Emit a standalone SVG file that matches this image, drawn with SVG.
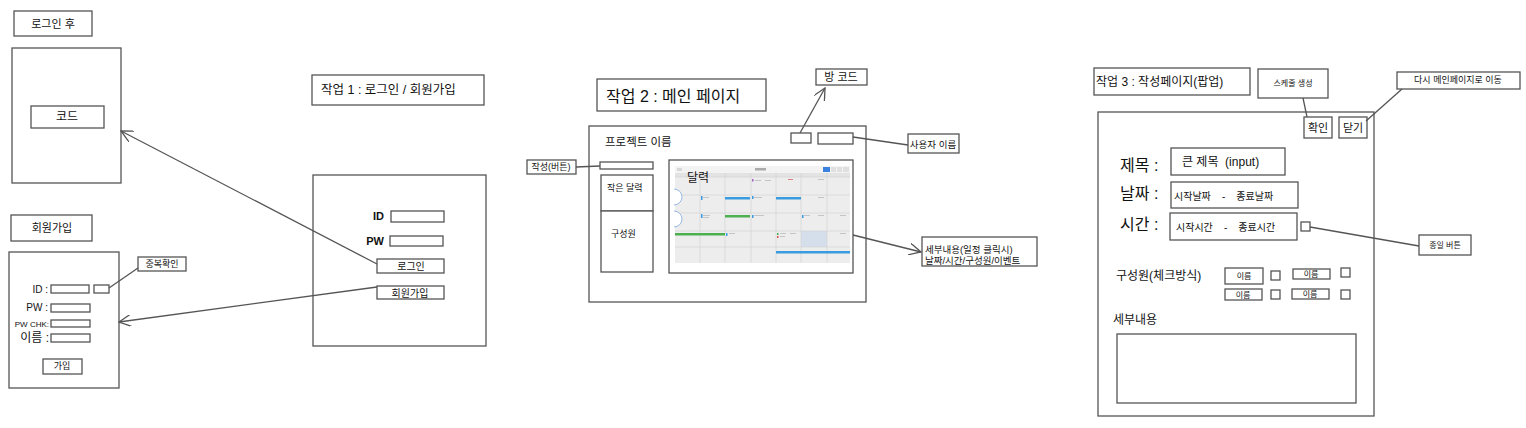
<svg xmlns="http://www.w3.org/2000/svg" width="1526" height="428" viewBox="0 0 1526 428">
<defs>
<style>
.b{fill:#fff;stroke:#555;stroke-width:1.3}
.ln{fill:none;stroke:#555;stroke-width:1.3}
text{font-family:"Liberation Sans","Noto Sans CJK KR",sans-serif;fill:#111;white-space:pre}
.m{text-anchor:middle;dominant-baseline:central}
.s{dominant-baseline:central}
.e{text-anchor:end;dominant-baseline:central}
.gl{stroke:#d2d2d2;stroke-width:0.6}
</style>
<marker id="ah" viewBox="0 0 13 12" refX="12" refY="6" markerWidth="13" markerHeight="12" markerUnits="userSpaceOnUse" orient="auto">
<path d="M0,0 L12,6 L0,12" fill="none" stroke="#555" stroke-width="1.3"/>
</marker>
</defs>
<rect x="0" y="0" width="1526" height="428" fill="#fff"/>

<!-- Left column -->
<g id="after-login-label"><rect class="b" x="14" y="11" width="78" height="25"/><text class="m" x="53" y="24" font-size="11">로그인 후</text></g>
<g id="after-login-page"><rect class="b" x="12" y="48" width="109" height="135"/></g>
<g id="code-box"><rect class="b" x="31" y="106" width="73" height="22"/><text class="m" x="67" y="117" font-size="12">코드</text></g>

<g id="signup-label"><rect class="b" x="11" y="215" width="81" height="26"/><text class="m" x="52" y="228" font-size="11">회원가입</text></g>
<g id="signup-page">
<rect class="b" x="9" y="252" width="110" height="136"/>
<text class="e" x="48" y="289" font-size="10">ID :</text>
<rect class="b" x="51" y="285" width="38" height="8"/>
<rect class="b" x="94" y="285" width="15" height="8"/>
<text class="e" x="48" y="307" font-size="10">PW :</text>
<rect class="b" x="51" y="304" width="39" height="8"/>
<text class="e" x="49" y="324" font-size="8">PW CHK:</text>
<rect class="b" x="51" y="320" width="39" height="7"/>
<text class="e" x="49" y="338" font-size="12">이름 :</text>
<rect class="b" x="51" y="334" width="39" height="8"/>
<rect class="b" x="43" y="359" width="39" height="15"/>
<text class="m" x="62" y="366" font-size="9">가입</text>
</g>
<g id="dup-check"><rect class="b" x="138" y="257" width="48" height="14"/><text class="m" x="162" y="264" font-size="9">중복확인</text></g>

<!-- Task 1 -->
<g id="task1-title"><rect class="b" x="312" y="75" width="172" height="30"/><text class="s" x="321" y="90" font-size="12.5">작업 1 : 로그인 / 회원가입</text></g>
<g id="login-page">
<rect class="b" x="313" y="175" width="173" height="171"/>
<text class="e" x="384" y="216" font-size="11" font-weight="bold">ID</text>
<rect class="b" x="391" y="211" width="53" height="11"/>
<text class="e" x="384" y="241" font-size="11" font-weight="bold">PW</text>
<rect class="b" x="390" y="236" width="53" height="10"/>
</g>
<g id="login-btn"><rect class="b" x="377" y="259" width="67" height="14"/><text class="m" x="411" y="266" font-size="10">로그인</text></g>
<g id="signup-btn"><rect class="b" x="377" y="286" width="67" height="13"/><text class="m" x="410" y="293" font-size="10">회원가입</text></g>

<!-- Task 2 -->
<g id="task2-title"><rect class="b" x="597" y="79" width="169" height="32"/><text class="s" x="606" y="96" font-size="16">작업 2 : 메인 페이지</text></g>
<g id="room-code"><rect class="b" x="816" y="69" width="51" height="16"/><text class="m" x="841" y="77" font-size="11">방 코드</text></g>
<g id="main-page">
<rect class="b" x="589" y="126" width="277" height="176"/>
<text class="s" x="605" y="142" font-size="11.5">프로젝트 이름</text>
<rect class="b" x="791" y="133" width="20" height="10"/>
<rect class="b" x="818" y="133" width="35" height="11"/>
<rect class="b" x="600" y="162" width="53" height="7"/>
<rect class="b" x="601" y="175" width="52" height="36"/>
<text class="s" x="607" y="188" font-size="9">작은 달력</text>
<rect class="b" x="601" y="211" width="52" height="61"/>
<text class="s" x="611" y="234" font-size="9">구성원</text>
</g>
<g id="calendar">
<rect class="b" x="669" y="160" width="184" height="113"/>
<rect x="675" y="166" width="175" height="97" fill="#ededed"/>
<rect x="675" y="166" width="175" height="7" fill="#f3f3f3"/>
<rect x="677" y="168" width="5" height="3" fill="#d8d8d8"/>
<rect x="755" y="168" width="11" height="2.5" fill="#aaa"/>
<rect x="823" y="167" width="7" height="5" fill="#3b82e0"/>
<rect x="831" y="167" width="5" height="5" fill="#e0e0e0"/>
<rect x="837" y="167" width="5" height="5" fill="#e0e0e0"/>
<rect x="843" y="167" width="6" height="5" fill="#e0e0e0"/>
<rect x="675" y="173" width="175" height="4" fill="#e3e3e3"/>
<rect x="801" y="231" width="26" height="16" fill="#d5dfeb"/>
<g class="gl">
<line x1="700" y1="173" x2="700" y2="263"/><line x1="725" y1="173" x2="725" y2="263"/>
<line x1="751" y1="173" x2="751" y2="263"/><line x1="776" y1="173" x2="776" y2="263"/>
<line x1="801" y1="173" x2="801" y2="263"/><line x1="827" y1="173" x2="827" y2="263"/>
<line x1="675" y1="177" x2="850" y2="177"/><line x1="675" y1="195" x2="850" y2="195"/>
<line x1="675" y1="213" x2="850" y2="213"/><line x1="675" y1="231" x2="850" y2="231"/>
<line x1="675" y1="247" x2="850" y2="247"/>
</g>
<rect x="725" y="197" width="25" height="2.5" fill="#3b9be0"/>
<rect x="776" y="197" width="25" height="2.5" fill="#3b9be0"/>
<rect x="701" y="196" width="1.5" height="4" fill="#3b9be0"/>
<rect x="752" y="196" width="1.5" height="3" fill="#3b9be0"/>
<rect x="725" y="215" width="25" height="2.5" fill="#4caf50"/>
<rect x="701" y="214" width="1.5" height="4" fill="#3b9be0"/>
<rect x="752" y="215" width="1.5" height="3" fill="#3b9be0"/>
<rect x="802" y="215" width="1.5" height="3" fill="#3b9be0"/>
<rect x="675" y="233" width="50" height="2.5" fill="#4caf50"/>
<rect x="726" y="233" width="1.5" height="3" fill="#3b9be0"/>
<rect x="777" y="233" width="1.5" height="2" fill="#4caf50"/>
<rect x="777" y="236" width="1.5" height="2" fill="#e05050"/>
<rect x="752" y="179" width="1.5" height="2.5" fill="#a060c0"/>
<rect x="776" y="251" width="74" height="2.5" fill="#3b9be0"/>
<g fill="#c4c4c4">
<rect x="703" y="197" width="6" height="1"/><rect x="754" y="197" width="8" height="1"/>
<rect x="703" y="215" width="7" height="1"/><rect x="703" y="217" width="6" height="1"/>
<rect x="754" y="215" width="10" height="1"/><rect x="804" y="215" width="6" height="1"/>
<rect x="729" y="233" width="6" height="1"/><rect x="780" y="233" width="6" height="1"/>
<rect x="780" y="236" width="5" height="1"/><rect x="790" y="233" width="6" height="1"/>
<rect x="755" y="180" width="6" height="1"/><rect x="765" y="180" width="6" height="1"/>
<rect x="818" y="179" width="6" height="1"/><rect x="818" y="197" width="6" height="1"/>
<rect x="818" y="215" width="6" height="1"/><rect x="840" y="215" width="6" height="1"/>
<rect x="840" y="233" width="6" height="1"/><rect x="788" y="179" width="5" height="1" fill="#e08080"/>
</g>
<path d="M674,189 A8,8 0 0 1 674,205" fill="#fff" stroke="#7fa8d8" stroke-width="0.8"/>
<path d="M674,211 A8,8 0 0 1 674,227" fill="#fff" stroke="#7fa8d8" stroke-width="0.8"/>
<text class="s" x="687" y="178" font-size="12">달력</text>
</g>
<g id="write-btn"><rect class="b" x="527" y="160" width="49" height="14"/><text class="m" x="551" y="167" font-size="9">작성(버튼)</text></g>
<g id="user-name"><rect class="b" x="908" y="134" width="51" height="19"/><text class="m" x="933" y="144" font-size="9.5">사용자 이름</text></g>
<g id="detail-note"><rect class="b" x="922" y="237" width="115" height="29"/>
<text class="s" x="925" y="249" font-size="9.5">세부내용(일정 클릭시)</text>
<text class="s" x="925" y="260" font-size="9.5">날짜/시간/구성원/이벤트</text></g>

<!-- Task 3 -->
<g id="task3-title"><rect class="b" x="1094" y="68" width="156" height="27"/><text class="s" x="1096" y="82" font-size="12">작업 3 : 작성페이지(팝업)</text></g>
<g id="create-note"><rect class="b" x="1258" y="69" width="70" height="29"/><text class="m" x="1293" y="83" font-size="8">스케줄 생성</text></g>
<g id="back-note"><rect class="b" x="1397" y="72" width="123" height="17"/><text class="m" x="1458" y="80" font-size="9">다시 메인페이지로 이동</text></g>
<g id="write-page">
<rect class="b" x="1098" y="112" width="276" height="304"/>
<text class="s" x="1120" y="165" font-size="16">제목 :</text>
<rect class="b" x="1171" y="148" width="114" height="27"/>
<text class="s" x="1182" y="162" font-size="12">큰 제목  (input)</text>
<text class="s" x="1120" y="193" font-size="16">날짜 :</text>
<rect class="b" x="1171" y="182" width="127" height="26"/>
<text class="s" x="1174" y="196" font-size="10">시작날짜    -    종료날짜</text>
<text class="s" x="1120" y="224" font-size="16">시간 :</text>
<rect class="b" x="1170" y="213" width="127" height="27"/>
<text class="s" x="1176" y="227" font-size="10">시작시간    -    종료시간</text>
<rect class="b" x="1301" y="222" width="9" height="9"/>
<text class="s" x="1116" y="276" font-size="12">구성원(체크방식)</text>
<rect class="b" x="1225" y="268" width="38" height="16"/><text class="m" x="1244" y="276" font-size="8">이름</text>
<rect class="b" x="1271" y="271" width="9" height="9"/>
<rect class="b" x="1293" y="269" width="37" height="10"/><text class="m" x="1311" y="274" font-size="8">이름</text>
<rect class="b" x="1341" y="268" width="9" height="9"/>
<rect class="b" x="1225" y="289" width="37" height="11"/><text class="m" x="1243" y="295" font-size="8">이름</text>
<rect class="b" x="1271" y="290" width="9" height="9"/>
<rect class="b" x="1292" y="289" width="37" height="10"/><text class="m" x="1310" y="294" font-size="8">이름</text>
<rect class="b" x="1341" y="290" width="9" height="9"/>
<text class="s" x="1113" y="320" font-size="12">세부내용</text>
<rect class="b" x="1117" y="334" width="239" height="69"/>
</g>
<g id="confirm-btn"><rect class="b" x="1304" y="117" width="28" height="21"/><text class="m" x="1318" y="128" font-size="11">확인</text></g>
<g id="close-btn"><rect class="b" x="1339" y="117" width="28" height="21"/><text class="m" x="1353" y="128" font-size="11">닫기</text></g>
<g id="allday-note"><rect class="b" x="1419" y="235" width="52" height="20"/><text class="m" x="1445" y="245" font-size="8">종일 버튼</text></g>

<!-- Connectors -->
<g id="connectors" class="ln">
<line x1="377" y1="264" x2="121" y2="131" marker-end="url(#ah)"/>
<line x1="377" y1="287" x2="119" y2="322" marker-end="url(#ah)"/>
<line x1="109" y1="288" x2="138" y2="268"/>
<line x1="800" y1="133" x2="825" y2="88" marker-end="url(#ah)"/>
<line x1="853" y1="137" x2="908" y2="145"/>
<line x1="576" y1="167" x2="600" y2="166"/>
<line x1="853" y1="235" x2="921" y2="252" marker-end="url(#ah)"/>
<line x1="1303" y1="98" x2="1307" y2="117"/>
<line x1="1366" y1="121" x2="1402" y2="89"/>
<line x1="1310" y1="227" x2="1419" y2="246"/>
</g>
</svg>
